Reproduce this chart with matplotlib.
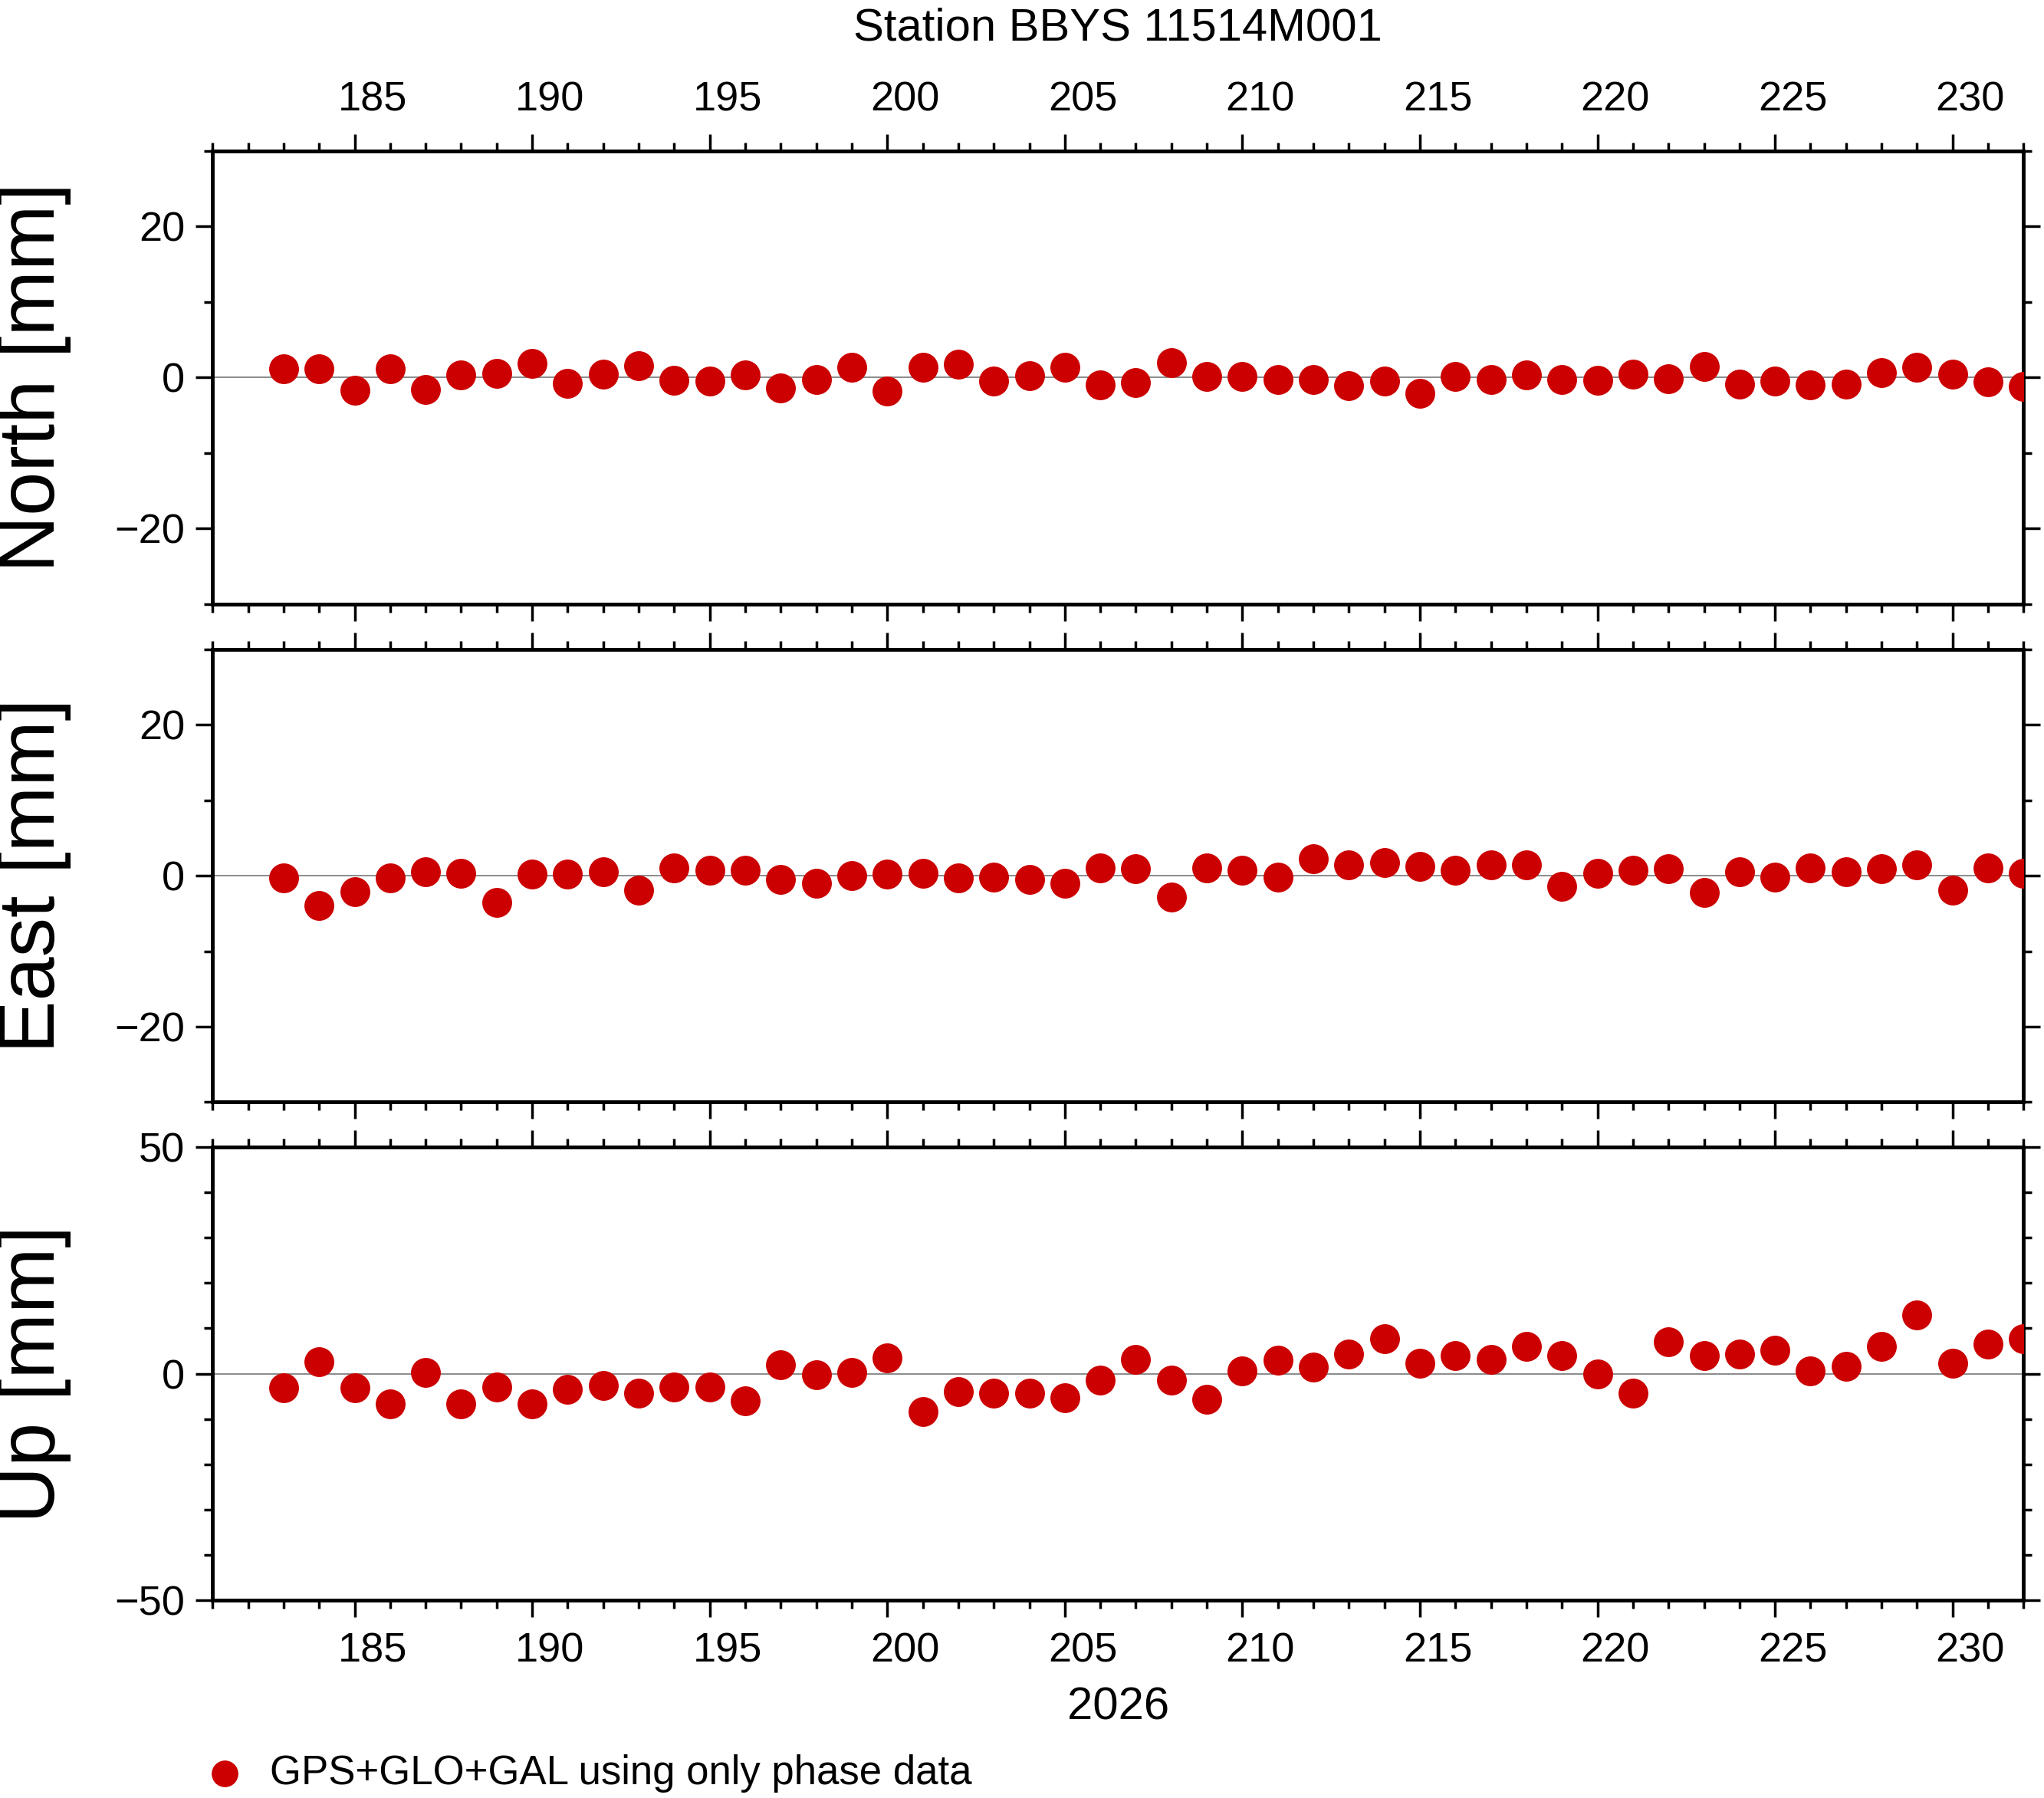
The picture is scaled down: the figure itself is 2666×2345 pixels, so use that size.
import matplotlib.pyplot as plt
from matplotlib.ticker import MultipleLocator, NullFormatter
import matplotlib.transforms as mtrans

plt.rcParams['font.family'] = ['Liberation Sans', 'DejaVu Sans']

# day of year 2026
days = list(range(183, 233))

north = [1.2, 1.2, -1.7, 1.2, -1.6, 0.4, 0.6, 1.9, -0.8, 0.5,
         1.6, -0.4, -0.5, 0.3, -1.4, -0.3, 1.4, -1.8, 1.4, 1.8,
         -0.5, 0.2, 1.4, -1.0, -0.7, 2.0, 0.1, 0.1, -0.3, -0.3,
         -1.1, -0.5, -2.1, 0.1, -0.3, 0.4, -0.3, -0.4, 0.5, -0.2,
         1.5, -0.9, -0.5, -1.0, -0.9, 0.7, 1.4, 0.5, -0.6, -1.2]
east = [-0.3, -4.0, -2.1, -0.3, 0.5, 0.3, -3.6, 0.2, 0.2, 0.5,
        -1.9, 1.0, 0.7, 0.7, -0.5, -1.0, 0.0, 0.2, 0.3, -0.3,
        -0.2, -0.5, -1.0, 1.0, 0.9, -2.8, 1.0, 0.7, -0.2, 2.2,
        1.4, 1.7, 1.2, 0.7, 1.4, 1.4, -1.4, 0.3, 0.7, 0.9,
        -2.2, 0.5, -0.2, 1.0, 0.5, 0.9, 1.4, -1.9, 1.0, 0.3]
up = [-3.1, 2.6, -3.1, -6.6, 0.3, -6.6, -2.9, -6.6, -3.4, -2.6,
      -4.3, -2.9, -2.9, -6.0, 2.0, -0.3, 0.3, 3.4, -8.3, -4.0,
      -4.3, -4.3, -5.4, -1.4, 3.1, -1.4, -5.7, 0.6, 2.9, 1.4,
      4.3, 7.7, 2.3, 4.0, 3.1, 6.0, 4.0, 0.0, -4.3, 7.1,
      4.0, 4.3, 5.1, 0.6, 1.7, 6.0, 12.9, 2.3, 6.6, 7.7]

panels = [("North [mm]", north, 30, 20), ("East [mm]", east, 30, 20), ("Up [mm]", up, 50, 50)]
xticks = list(range(185, 231, 5))
red = '#cc0000'

fig = plt.figure(figsize=(26.66, 23.45), dpi=100)
tops = [0.916, 0.639, 0.362]
h = 0.252
L, W = 0.104, 0.886

for i, (lab, vals, lim, step) in enumerate(panels):
    ax = fig.add_axes([L, tops[i] - h, W, h])
    ax.axhline(0, color='#777777', lw=1.2, zorder=1)
    ax.plot(days, vals, 'o', color=red, ms=27, zorder=3, clip_on=True)
    ax.set_xlim(181, 232)
    ax.set_ylim(-lim, lim)
    ax.set_xticks(xticks)
    ax.xaxis.set_minor_locator(MultipleLocator(1))
    ax.xaxis.set_major_formatter(NullFormatter())
    ax.yaxis.set_major_locator(MultipleLocator(step))
    ax.yaxis.set_minor_locator(MultipleLocator(10))
    ax.tick_params(axis='both', which='both', direction='out', top=True, right=True,
                   labelright=False, width=2.5)
    ax.tick_params(which='major', length=16, labelsize=39, pad=10)
    ax.tick_params(which='minor', length=8)
    for s in ax.spines.values():
        s.set_linewidth(3.5)
    ax.set_ylabel(lab, fontsize=74)
    ax.yaxis.set_label_coords(-0.078, 0.5)
    ax.set_yticklabels([f"{int(t):d}".replace('-', '\u2212') for t in ax.get_yticks()])
    tr = mtrans.blended_transform_factory(ax.transData, ax.transAxes)
    if i == 0:
        for t in xticks:
            ax.text(t + 0.5, 1.07, str(t), transform=tr, ha='center', va='bottom', fontsize=39)
        ax.text(0.5, 1.225, "Station BBYS 11514M001", transform=ax.transAxes,
                ha='center', va='bottom', fontsize=43)
    if i == 2:
        for t in xticks:
            ax.text(t + 0.5, -0.07, str(t), transform=tr, ha='center', va='top', fontsize=39)
        ax.text(0.5, -0.19, "2026", transform=ax.transAxes, ha='center', va='top', fontsize=43)

ly = 1 - 1360 / 1379
fig.lines.append(plt.Line2D([0.110], [ly], marker='o', color=red, ms=24,
                            transform=fig.transFigure, figure=fig))
fig.text(0.132, ly, "GPS+GLO+GAL using only phase data", fontsize=38, va='center')

fig.savefig("out.png", dpi=100)
